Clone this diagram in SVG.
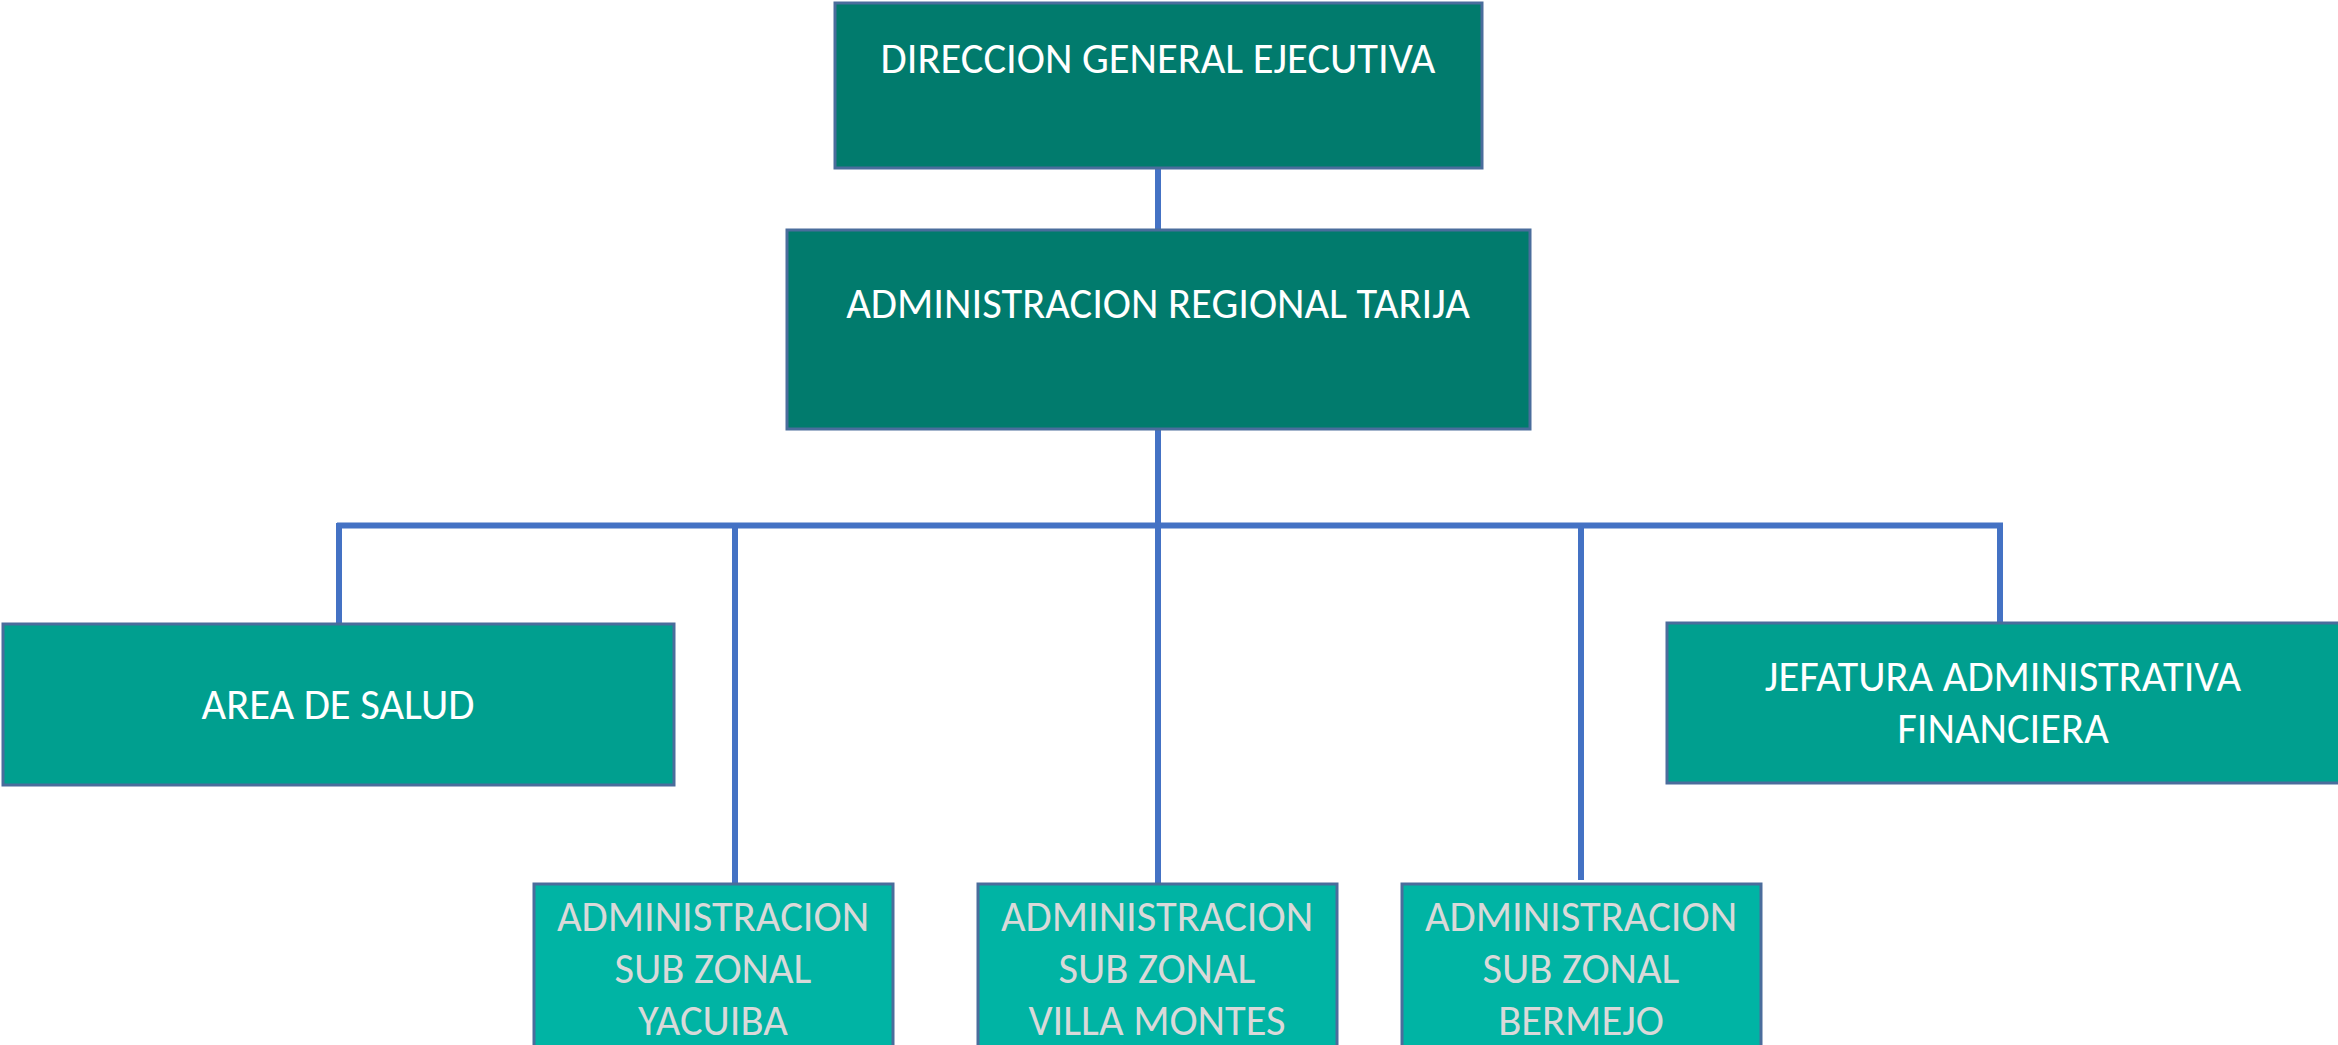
<svg xmlns="http://www.w3.org/2000/svg" width="2338" height="1045" viewBox="0 0 2338 1045">
<style>
.box{stroke:#4a6d9c;stroke-width:3}
.l1{fill:#017b6d}
.l2{fill:#009f8f}
.l3{fill:#00b4a4}
text{font-family:Carlito,Lato,"Liberation Sans",sans-serif;text-anchor:middle;font-size:42.5px}
.tw{fill:#ffffff}
.tg{fill:#d9d9d9}
.conn{stroke:#4472c4;stroke-width:6;fill:none}
</style>
<rect width="2338" height="1045" fill="#ffffff"/>
<g id="connectors">
<line class="conn" x1="1158" y1="168" x2="1158" y2="230"/>
<line class="conn" x1="1158" y1="429" x2="1158" y2="526"/>
<line class="conn" x1="337" y1="525.5" x2="2003" y2="525.5"/>
<line class="conn" x1="339" y1="523" x2="339" y2="624"/>
<line class="conn" x1="735" y1="526" x2="735" y2="884"/>
<line class="conn" x1="1158" y1="526" x2="1158" y2="884"/>
<line class="conn" x1="1581" y1="526" x2="1581" y2="880"/>
<line class="conn" x1="2000" y1="523" x2="2000" y2="623"/>
</g>
<g id="direccion">
<rect class="box l1" x="835" y="3" width="647" height="165"/>
<text class="tw" x="1158" y="73">DIRECCION GENERAL EJECUTIVA</text>
</g>
<g id="regional">
<rect class="box l1" x="787" y="230" width="743" height="199"/>
<text class="tw" x="1158" y="318">ADMINISTRACION REGIONAL TARIJA</text>
</g>
<g id="salud">
<rect class="box l2" x="3" y="624" width="671" height="161"/>
<text class="tw" x="338" y="719">AREA DE SALUD</text>
</g>
<g id="jefatura">
<rect class="box l2" x="1667" y="623" width="675" height="160"/>
<text class="tw" x="2003" y="691">JEFATURA ADMINISTRATIVA</text>
<text class="tw" x="2003" y="743">FINANCIERA</text>
</g>
<g id="yacuiba">
<rect class="box l3" x="534" y="884" width="359" height="165"/>
<text class="tg" x="713" y="931">ADMINISTRACION</text>
<text class="tg" x="713" y="983">SUB ZONAL</text>
<text class="tg" x="713" y="1035">YACUIBA</text>
</g>
<g id="villamontes">
<rect class="box l3" x="978" y="884" width="359" height="165"/>
<text class="tg" x="1157" y="931">ADMINISTRACION</text>
<text class="tg" x="1157" y="983">SUB ZONAL</text>
<text class="tg" x="1157" y="1035">VILLA MONTES</text>
</g>
<g id="bermejo">
<rect class="box l3" x="1402" y="884" width="359" height="165"/>
<text class="tg" x="1581" y="931">ADMINISTRACION</text>
<text class="tg" x="1581" y="983">SUB ZONAL</text>
<text class="tg" x="1581" y="1035">BERMEJO</text>
</g>
</svg>
